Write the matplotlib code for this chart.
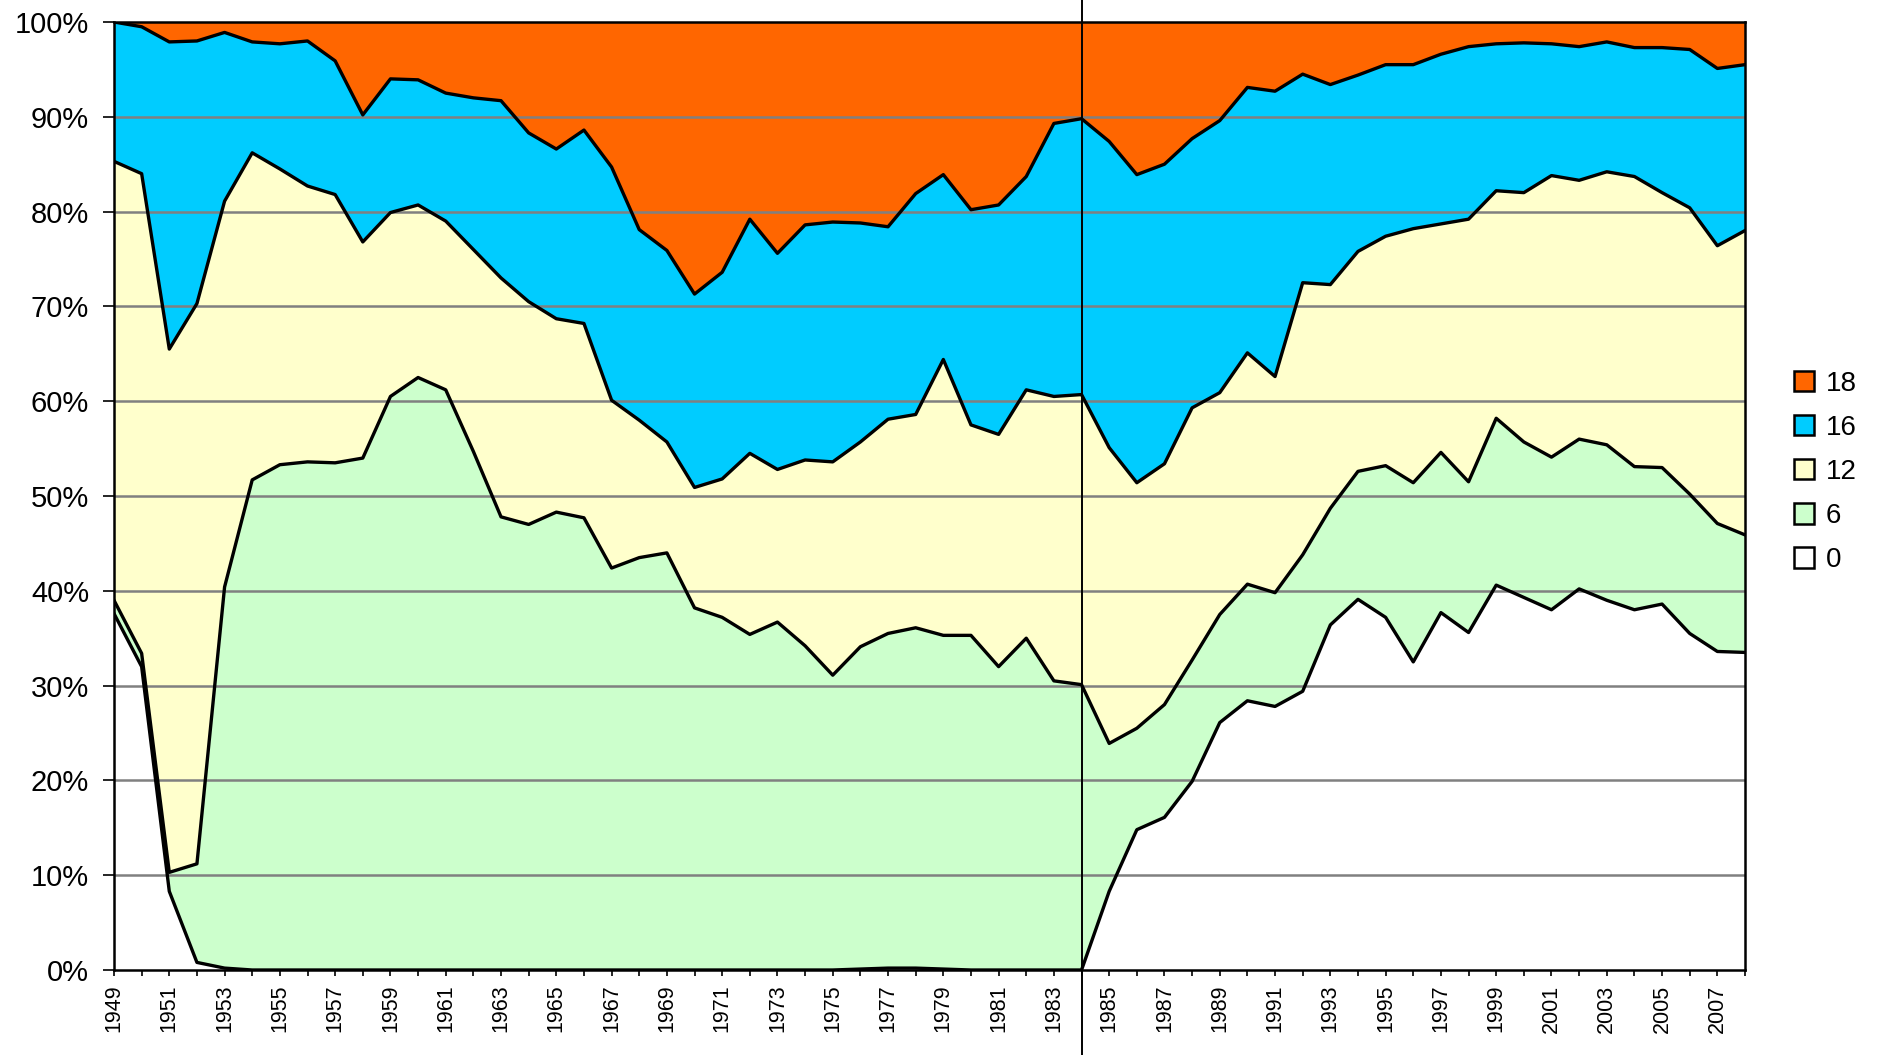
import numpy as np
import matplotlib.pyplot as plt
from matplotlib.patches import Patch

plt.rcParams['font.family'] = ['Liberation Sans', 'DejaVu Sans']

# Années 1949 - 2008
years = np.arange(1949, 2009)

# Parts (%) de chaque catégorie
part_0 = [37.6, 32.0, 8.3, 0.8, 0.2, 0.0, 0.0, 0.0, 0.0, 0.0,
          0.0, 0.0, 0.0, 0.0, 0.0, 0.0, 0.0, 0.0, 0.0, 0.0,
          0.0, 0.0, 0.0, 0.0, 0.0, 0.0, 0.0, 0.1, 0.2, 0.2,
          0.1, 0.0, 0.0, 0.0, 0.0, 0.0, 8.3, 14.8, 16.1, 19.9,
          26.1, 28.4, 27.8, 29.4, 36.4, 39.1, 37.2, 32.5, 37.7, 35.6,
          40.6, 39.3, 38.0, 40.2, 39.0, 38.0, 38.6, 35.5, 33.6, 33.5]
part_6 = [1.4, 1.4, 2.0, 10.4, 40.2, 51.7, 53.3, 53.6, 53.5, 54.0,
          60.5, 62.5, 61.2, 54.7, 47.8, 47.0, 48.3, 47.7, 42.4, 43.5,
          44.0, 38.2, 37.2, 35.4, 36.7, 34.2, 31.1, 34.0, 35.3, 35.9,
          35.2, 35.3, 32.0, 35.0, 30.5, 30.1, 15.6, 10.7, 11.9, 12.8,
          11.4, 12.3, 12.0, 14.4, 12.3, 13.5, 16.0, 18.9, 16.9, 15.9,
          17.6, 16.4, 16.1, 15.8, 16.4, 15.1, 14.4, 14.7, 13.5, 12.4]
part_12 = [46.3, 50.6, 55.2, 59.1, 40.7, 34.5, 31.2, 29.1, 28.3, 22.8,
           19.4, 18.2, 17.8, 21.3, 25.2, 23.5, 20.4, 20.5, 17.7, 14.5,
           11.7, 12.7, 14.6, 19.1, 16.1, 19.6, 22.5, 21.6, 22.6, 22.5,
           29.1, 22.2, 24.5, 26.2, 30.0, 30.6, 31.2, 25.9, 25.4, 26.6,
           23.4, 24.4, 22.8, 28.7, 23.6, 23.2, 24.2, 26.8, 24.1, 27.7,
           24.0, 26.3, 29.7, 27.3, 28.8, 30.6, 29.0, 30.2, 29.3, 32.1]
part_16 = [14.7, 15.5, 32.4, 27.7, 17.8, 11.7, 13.2, 15.3, 14.1, 13.4,
           14.1, 13.2, 13.5, 16.0, 18.7, 17.8, 17.9, 20.4, 24.6, 20.1,
           20.2, 20.4, 21.8, 24.7, 22.8, 24.8, 25.3, 23.1, 20.3, 23.3,
           19.5, 22.7, 24.2, 22.5, 28.8, 29.1, 32.3, 32.5, 31.6, 28.4,
           28.7, 28.0, 30.1, 22.0, 21.1, 18.6, 18.1, 17.3, 17.9, 18.2,
           15.5, 15.8, 13.9, 14.1, 13.7, 13.6, 15.3, 16.7, 18.7, 17.5]
part_18 = [0.0, 0.5, 2.1, 2.0, 1.1, 2.1, 2.3, 2.0, 4.1, 9.8,
           6.0, 6.1, 7.5, 8.0, 8.3, 11.7, 13.4, 11.4, 15.3, 21.9,
           24.1, 28.7, 26.4, 20.8, 24.4, 21.4, 21.1, 21.2, 21.6, 18.1,
           16.1, 19.8, 19.3, 16.3, 10.7, 10.2, 12.6, 16.1, 15.0, 12.3,
           10.4, 6.9, 7.3, 5.5, 6.6, 5.6, 4.5, 4.5, 3.4, 2.6,
           2.3, 2.2, 2.3, 2.6, 2.1, 2.7, 2.7, 2.9, 4.9, 4.5]

labels = ["0", "6", "12", "16", "18"]
couleurs = ["#FFFFFF", "#CCFFCC", "#FFFFCC", "#00CCFF", "#FF6600"]
annee_rupture = 1984

# ---- Normalisation à 100 % ----
parts = np.array([part_0, part_6, part_12, part_16, part_18], dtype=float)
parts = parts / parts.sum(axis=0) * 100
cumul = np.cumsum(parts, axis=0)

fig = plt.figure(figsize=(18.79, 10.55), dpi=100)
ax = fig.add_axes([114 / 1879, 1 - 970 / 1055, (1745 - 114) / 1879, (970 - 22) / 1055])

# Aires empilées
ax.stackplot(years, parts, colors=couleurs, linewidth=0, zorder=1)

# Lignes de grille grises
for y in range(10, 100, 10):
    ax.axhline(y, color="#808080", linewidth=1.8, zorder=2)

# Contours noirs entre les couches
for c in cumul[:-1]:
    ax.plot(years, c, color="black", linewidth=2.4, zorder=3)

# Ligne verticale en 1984
ax.axvline(annee_rupture, ymin=-0.09, ymax=1.03, color="black", linewidth=1.4,
           clip_on=False, zorder=4)

ax.set_xlim(years[0], years[-1])
ax.set_ylim(0, 100)

ax.set_yticks(range(0, 101, 10))
ax.set_yticklabels([f"{v}%" for v in range(0, 101, 10)], fontsize=21)
ax.set_xticks(years)
ax.set_xticklabels([str(a) if a % 2 == 1 else "" for a in years], rotation=90, fontsize=15.5)
ax.tick_params(axis="y", length=8, width=1.2, pad=10)
ax.tick_params(axis="x", length=4.5, width=1.2, pad=6)

for s in ax.spines.values():
    s.set_linewidth(1.8)
    s.set_zorder(5)

# Légende (ordre inversé : 18 en haut)
handles = [Patch(facecolor=couleurs[i], edgecolor="black", linewidth=1.8, label=labels[i])
           for i in range(len(labels) - 1, -1, -1)]
fig.legend(handles=handles, loc="center left", bbox_to_anchor=(0.9545, 0.5526),
           frameon=False, fontsize=20, handlelength=0.75, handleheight=0.75,
           handletextpad=0.42, labelspacing=0.65, borderpad=0, borderaxespad=0)

plt.savefig("out.png", dpi=100)
